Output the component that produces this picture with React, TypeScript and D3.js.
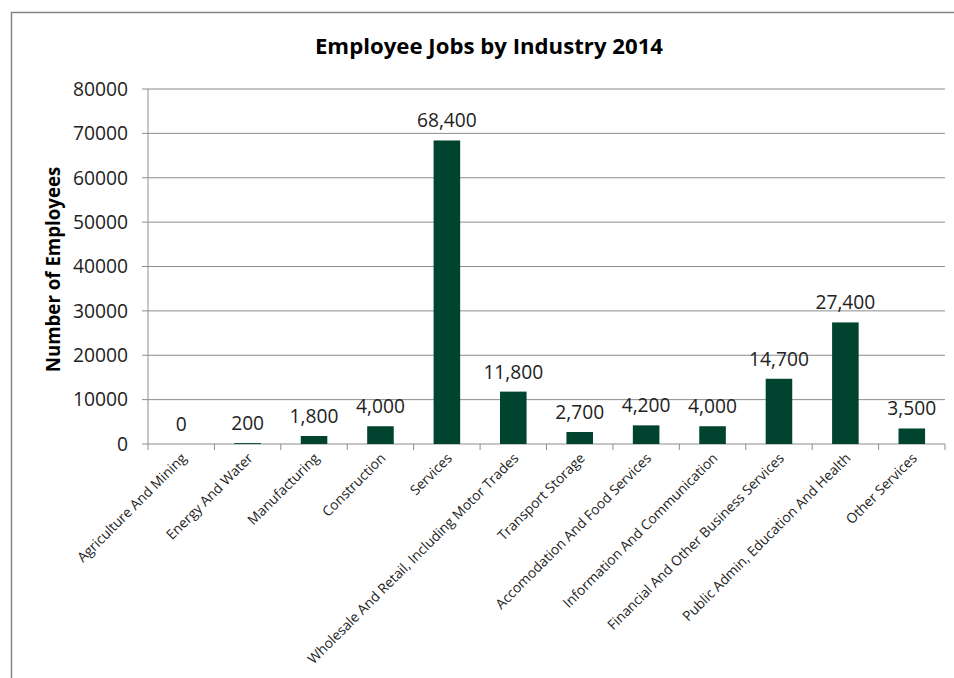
import React from "react";
import * as d3 from "d3";

const categories = [
  "Agriculture And Mining",
  "Energy And Water",
  "Manufacturing",
  "Construction",
  "Services",
  "Wholesale And Retail, Including Motor Trades",
  "Transport Storage",
  "Accomodation And Food Services",
  "Information And Communication",
  "Financial And Other Business Services",
  "Public Admin, Education And Health",
  "Other Services",
];
const values = [0, 200, 1800, 4000, 68400, 11800, 2700, 4200, 4000, 14700, 27400, 3500];
const yTicks = [0, 10000, 20000, 30000, 40000, 50000, 60000, 70000, 80000];

const W = 954;
const H = 678;
const plot = { left: 148, right: 945, top: 89, bottom: 444 };
const FONT = "'Open Sans', 'Liberation Sans', sans-serif";

export default function App() {
  const x = d3
    .scaleBand<string>()
    .domain(categories)
    .range([plot.left, plot.right])
    .paddingInner(0.6)
    .paddingOuter(0.3);
  const step = (plot.right - plot.left) / categories.length;
  const y = d3.scaleLinear().domain([0, 80000]).range([plot.bottom, plot.top]);
  const fmt = d3.format(",");

  return (
    <svg
      width={W}
      height={H}
      style={{ position: "fixed", left: 0, top: 0, background: "#fff" }}
      fontFamily={FONT}
    >
      <rect x={0} y={0} width={W} height={H} fill="#fff" />
      <rect x={11.5} y={12.5} width={1200} height={1000} fill="none" stroke="#858585" strokeWidth={1.5} />
      <text x={489} y={54} textAnchor="middle" fontSize={22.2} fontWeight="bold" fill="#000">
        Employee Jobs by Industry 2014
      </text>
      {yTicks.map((t) => (
        <g key={t}>
          {t > 0 && (
            <line x1={plot.left} x2={plot.right} y1={y(t)} y2={y(t)} stroke="#8c8c8c" strokeWidth={1} />
          )}
          <line x1={plot.left - 6} x2={plot.left} y1={y(t)} y2={y(t)} stroke="#8c8c8c" strokeWidth={1} />
          <text x={128} y={y(t)} dy="0.35em" textAnchor="end" fontSize={19.3} fill="#222">
            {t}
          </text>
        </g>
      ))}
      <line x1={plot.left} x2={plot.left} y1={plot.top} y2={plot.bottom} stroke="#8c8c8c" strokeWidth={1} />
      <line x1={plot.left} x2={plot.right} y1={plot.bottom} y2={plot.bottom} stroke="#8c8c8c" strokeWidth={1} />
      {d3.range(categories.length + 1).map((i) => (
        <line
          key={i}
          x1={plot.left + i * step}
          x2={plot.left + i * step}
          y1={plot.bottom}
          y2={plot.bottom + 6}
          stroke="#8c8c8c"
          strokeWidth={1}
        />
      ))}
      {categories.map((c, i) => {
        const bx = x(c)!;
        const bw = x.bandwidth();
        const top = y(values[i]);
        const cx = bx + bw / 2;
        return (
          <g key={c}>
            <rect x={bx} y={top} width={bw} height={plot.bottom - top} fill="#00442f" />
            <text x={cx} y={top - 13} textAnchor="middle" fontSize={19.2} fill="#222">
              {fmt(values[i])}
            </text>
            <text
              transform={`translate(${cx + 6},${plot.bottom + 15}) rotate(-45)`}
              textAnchor="end"
              fontSize={13.8}
              fill="#222"
            >
              {c}
            </text>
          </g>
        );
      })}
      <text
        transform={`translate(60,${(plot.top + plot.bottom) / 2 + 3}) rotate(-90)`}
        textAnchor="middle"
        fontSize={18.7}
        fontWeight="bold"
        fill="#000"
      >
        Number of Employees
      </text>
    </svg>
  );
}
